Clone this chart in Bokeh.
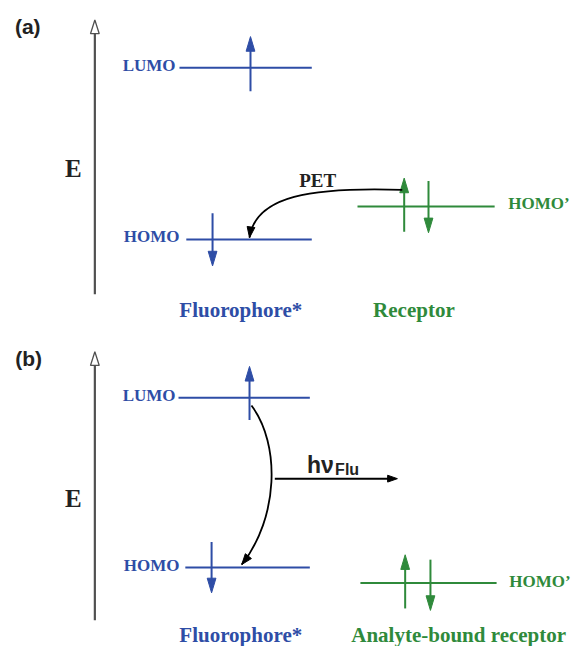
import numpy as np
from bokeh.plotting import figure
from bokeh.models import Range1d
from bokeh.core.properties import value
from bokeh.embed import file_html
from bokeh.resources import INLINE

BLUE = "#2E4DA6"
GREEN = "#2F8A3B"
DARK = "#222222"
AXIS = "#505050"

# ---- energy levels: x0, x1, y, colour
level_x0 = [184, 191, 367, 183, 190, 370]
level_x1 = [320, 320, 508, 318, 318, 510]
level_y = [69, 245, 211, 407, 581, 597]
level_col = [BLUE, BLUE, GREEN, BLUE, BLUE, GREEN]

# ---- electron arrows: x, tail y, tip y
elec_x = [257, 218, 415, 440, 256, 217, 416, 442]
elec_tail = [93, 218, 237, 185, 430, 555, 623, 573]
elec_tip = [37, 272, 182, 238, 375, 607, 568, 625]
elec_col = [BLUE, BLUE, GREEN, GREEN, BLUE, BLUE, GREEN, GREEN]

# ---- energy axes: x, bottom, top
eaxis_x = [97, 97]
eaxis_bottom = [301, 635]
eaxis_top = [20, 360]

# ---- curved transfer arrows (cubic bezier): start, control1, control2, end
curve_x0 = [413, 258]
curve_y0 = [194, 415]
curve_cx0 = [320, 288]
curve_cy0 = [191, 455]
curve_cx1 = [262, 286]
curve_cy1 = [200, 530]
curve_x1 = [256, 248]
curve_y1 = [243, 578]

# ---- emission arrow
hv_x0, hv_x1, hv_y = 282, 408, 490

# ---- labels
lvl_label_text = ["LUMO", "HOMO", "LUMO", "HOMO"]
lvl_label_x = [180, 184, 180, 184]
lvl_label_y = [67, 242, 405, 579]
homo2_text = ["HOMO\u2019", "HOMO\u2019"]
homo2_x = [522, 523]
homo2_y = [208, 595]
panel_text = ["(a)", "(b)"]
panel_x = [28, 29]
panel_y = [27, 367]
e_text = ["E", "E"]
e_x = [75, 75]
e_y = [172, 510]
name_text = ["Fluorophore*", "Receptor", "Fluorophore*", "Analyte-bound receptor"]
name_x = [247, 425, 247, 471]
name_y = [317, 317, 650, 650]
name_col = [BLUE, GREEN, BLUE, GREEN]

p = figure(width=571, height=646, output_backend="svg", toolbar_location=None,
           x_range=Range1d(0, 587), y_range=Range1d(662, 0), min_border=0)
p.axis.visible = False
p.grid.visible = False
p.outline_line_color = None
p.background_fill_color = "white"


def head(tx, ty, dx, dy, length, half_w):
    n = np.hypot(dx, dy)
    ux, uy = dx / n, dy / n
    bx, by = tx - ux * length, ty - uy * length
    px, py = -uy, ux
    return [tx, bx + px * half_w, bx - px * half_w], [ty, by + py * half_w, by - py * half_w]


# levels
p.segment(level_x0, level_y, level_x1, level_y, line_color=level_col, line_width=2)

# electrons
hx, hy = [], []
for i, (x, t0, t1) in enumerate(zip(elec_x, elec_tail, elec_tip)):
    d = np.sign(t1 - t0)
    xs, ys = head(x, t1, 0, d, 15, 4.5)
    hx.append(xs)
    hy.append(ys)
    p.segment(x, t0, x, t1 - d * 8, line_width=2, line_color=elec_col[i])
p.patches(hx, hy, fill_color=elec_col, line_color=elec_col, line_width=1)

# energy axes
for x, b, t in zip(eaxis_x, eaxis_bottom, eaxis_top):
    p.segment(x, b, x, t + 14, line_width=2.2, line_color=AXIS)
    xs, ys = head(x, t, 0, -1, 14, 4.5)
    p.patch(xs, ys, fill_color="white", line_color=AXIS, line_width=1.3)

# curved arrows
p.bezier(curve_x0, curve_y0, curve_x1, curve_y1, curve_cx0, curve_cy0, curve_cx1, curve_cy1,
         line_color="black", line_width=1.8)
for i in range(2):
    xs, ys = head(curve_x1[i], curve_y1[i], curve_x1[i] - curve_cx1[i], curve_y1[i] - curve_cy1[i], 11, 4)
    p.patch(xs, ys, fill_color="black", line_color="black")

# emission arrow
p.segment(hv_x0, hv_y, hv_x1 - 6, hv_y, line_color="black", line_width=2)
xs, ys = head(hv_x1, hv_y, 1, 0, 10, 3.5)
p.patch(xs, ys, fill_color="black", line_color="black")

# texts
serif = value("Liberation Serif")
sans = value("Liberation Sans")
p.text(lvl_label_x, lvl_label_y, text=lvl_label_text, text_font=serif, text_font_style="bold",
       text_font_size="17px", text_color=BLUE, text_align="right", text_baseline="middle")
p.text(homo2_x, homo2_y, text=homo2_text, text_font=serif, text_font_style="bold",
       text_font_size="17px", text_color=GREEN, text_align="left", text_baseline="middle")
p.text(panel_x, panel_y, text=panel_text, text_font=sans, text_font_style="bold",
       text_font_size="21px", text_color=DARK, text_align="center", text_baseline="middle")
p.text(e_x, e_y, text=e_text, text_font=serif, text_font_style="bold",
       text_font_size="25px", text_color=DARK, text_align="center", text_baseline="middle")
p.text(name_x, name_y, text=name_text, text_font=serif, text_font_style="bold",
       text_font_size="21px", text_color=name_col, text_align="center", text_baseline="middle")
p.text([326], [184], text=["PET"], text_font=serif, text_font_style="bold",
       text_font_size="19px", text_color=DARK, text_align="center", text_baseline="middle")
p.text([315], [476], text=["h\u03bd"], text_font=sans, text_font_style="bold",
       text_font_size="23px", text_color=DARK, text_align="left", text_baseline="alphabetic")
p.text([344], [481], text=["Flu"], text_font=sans, text_font_style="bold",
       text_font_size="16px", text_color=DARK, text_align="left", text_baseline="alphabetic")

open("out.html", "w").write(file_html(p, INLINE))
